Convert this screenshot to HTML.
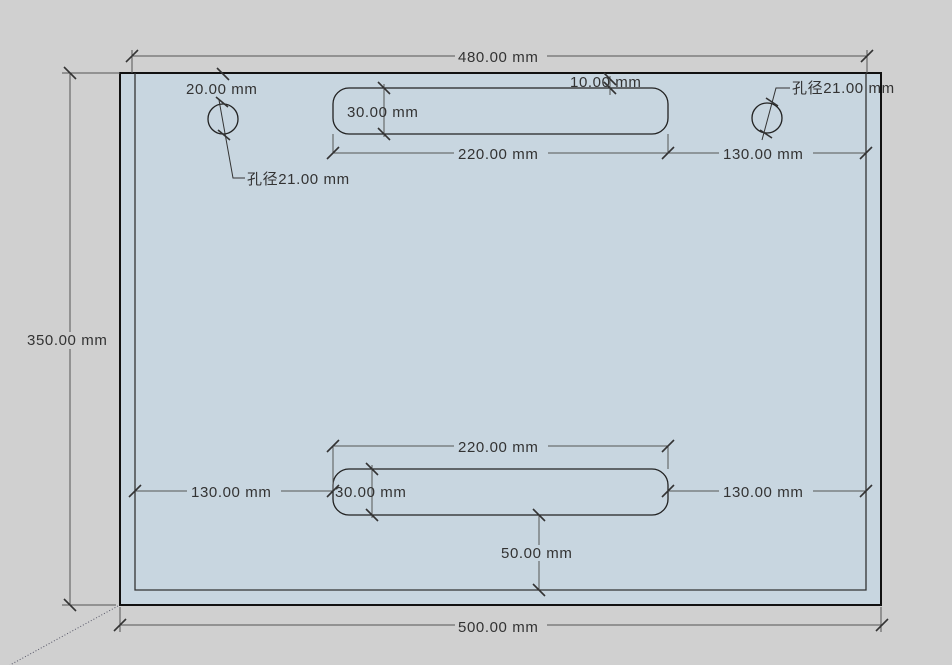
<!DOCTYPE html>
<html><head><meta charset="utf-8"><style>
html,body{margin:0;padding:0;background:#d0d0d0;}
svg{display:block}
text{font-family:"Liberation Sans","Noto Sans CJK SC",sans-serif;font-size:15px;letter-spacing:0.6px;fill:#333;}
</style></head><body>
<svg width="952" height="665" viewBox="0 0 952 665" xmlns="http://www.w3.org/2000/svg">
<rect x="0" y="0" width="952" height="665" fill="#d0d0d0"/>
<rect x="120" y="73" width="761" height="532" fill="#c8d6e0" stroke="#111" stroke-width="2"/>
<polyline points="135,73 135,590 866,590 866,73" fill="none" stroke="#333" stroke-width="1.3"/>
<rect x="333" y="88" width="335" height="46" rx="16" fill="none" stroke="#222" stroke-width="1.3"/>
<rect x="333" y="469" width="335" height="46" rx="16" fill="none" stroke="#222" stroke-width="1.3"/>
<circle cx="223" cy="119" r="15" fill="none" stroke="#222" stroke-width="1.3"/>
<circle cx="767" cy="118" r="15" fill="none" stroke="#222" stroke-width="1.3"/>

<g stroke="#555" stroke-width="1" fill="none">
<line x1="132" y1="56" x2="867" y2="56"/>
<line x1="132" y1="50" x2="132" y2="73"/>
<line x1="867" y1="50" x2="867" y2="73"/>
<line x1="70" y1="72" x2="70" y2="605"/>
<line x1="62" y1="73" x2="120" y2="73"/>
<line x1="62" y1="605" x2="116" y2="605"/>
<line x1="120" y1="625" x2="882" y2="625"/>
<line x1="120" y1="607" x2="120" y2="632"/>
<line x1="881" y1="607" x2="881" y2="632"/>
<line x1="333" y1="134" x2="333" y2="153"/>
<line x1="668" y1="134" x2="668" y2="153"/>
<line x1="333" y1="153" x2="668" y2="153"/>
<line x1="668" y1="153" x2="866" y2="153"/>
<line x1="384" y1="84" x2="384" y2="137"/>
<line x1="610" y1="76" x2="610" y2="95"/>
<line x1="333" y1="446" x2="668" y2="446"/>
<line x1="333" y1="446" x2="333" y2="492"/>
<line x1="668" y1="446" x2="668" y2="469"/>
<line x1="135" y1="491" x2="333" y2="491"/>
<line x1="668" y1="491" x2="866" y2="491"/>
<line x1="372" y1="465" x2="372" y2="518"/>
<line x1="539" y1="515" x2="539" y2="590"/>
</g>
<polyline points="219,100 233,178 245,178" fill="none" stroke="#333" stroke-width="1"/>
<polyline points="762,140 776,88 790,88" fill="none" stroke="#333" stroke-width="1"/>
<line x1="118" y1="606" x2="10" y2="665" stroke="#556" stroke-width="1" stroke-dasharray="1,2"/>

<g stroke="#333" stroke-width="1.6">
<line x1="126" y1="62" x2="138" y2="50"/>
<line x1="861" y1="62" x2="873" y2="50"/>
<line x1="64" y1="67" x2="76" y2="79"/>
<line x1="64" y1="599" x2="76" y2="611"/>
<line x1="114" y1="631" x2="126" y2="619"/>
<line x1="876" y1="631" x2="888" y2="619"/>
<line x1="217" y1="68" x2="229" y2="80"/>
<line x1="216" y1="97" x2="228" y2="107"/>
<line x1="218" y1="130" x2="230" y2="140"/>
<line x1="378" y1="82" x2="390" y2="94"/>
<line x1="378" y1="128" x2="390" y2="140"/>
<line x1="604" y1="73" x2="616" y2="85"/>
<line x1="604" y1="82" x2="616" y2="94"/>
<line x1="327" y1="159" x2="339" y2="147"/>
<line x1="662" y1="159" x2="674" y2="147"/>
<line x1="860" y1="159" x2="872" y2="147"/>
<line x1="760" y1="130" x2="772" y2="138"/>
<line x1="766" y1="98" x2="778" y2="106"/>
<line x1="327" y1="452" x2="339" y2="440"/>
<line x1="662" y1="452" x2="674" y2="440"/>
<line x1="129" y1="497" x2="141" y2="485"/>
<line x1="327" y1="497" x2="339" y2="485"/>
<line x1="662" y1="497" x2="674" y2="485"/>
<line x1="860" y1="497" x2="872" y2="485"/>
<line x1="366" y1="463" x2="378" y2="475"/>
<line x1="366" y1="509" x2="378" y2="521"/>
<line x1="533" y1="509" x2="545" y2="521"/>
<line x1="533" y1="584" x2="545" y2="596"/>
</g>

<g fill="#d0d0d0">
<rect x="455" y="48" width="92" height="16"/>
<rect x="24" y="332" width="90" height="17"/>
<rect x="455" y="618" width="92" height="16"/>
</g>
<g fill="#c8d6e0">
<rect x="454" y="146" width="94" height="16"/>
<rect x="719" y="146" width="94" height="16"/>
<rect x="454" y="439" width="94" height="16"/>
<rect x="187" y="484" width="94" height="16"/>
<rect x="719" y="484" width="94" height="16"/>
<rect x="498" y="545" width="82" height="16"/>
</g>
<text x="458" y="62">480.00 mm</text>
<text x="27" y="345">350.00 mm</text>
<text x="458" y="632">500.00 mm</text>
<text x="186" y="94">20.00 mm</text>
<text x="347" y="117">30.00 mm</text>
<text x="570" y="87">10.00 mm</text>
<text x="458" y="159">220.00 mm</text>
<text x="723" y="159">130.00 mm</text>
<text x="247" y="184">孔径21.00 mm</text>
<text x="792" y="93">孔径21.00 mm</text>
<text x="458" y="452">220.00 mm</text>
<text x="191" y="497">130.00 mm</text>
<text x="335" y="497">30.00 mm</text>
<text x="723" y="497">130.00 mm</text>
<text x="501" y="558">50.00 mm</text>
</svg>
</body></html>
